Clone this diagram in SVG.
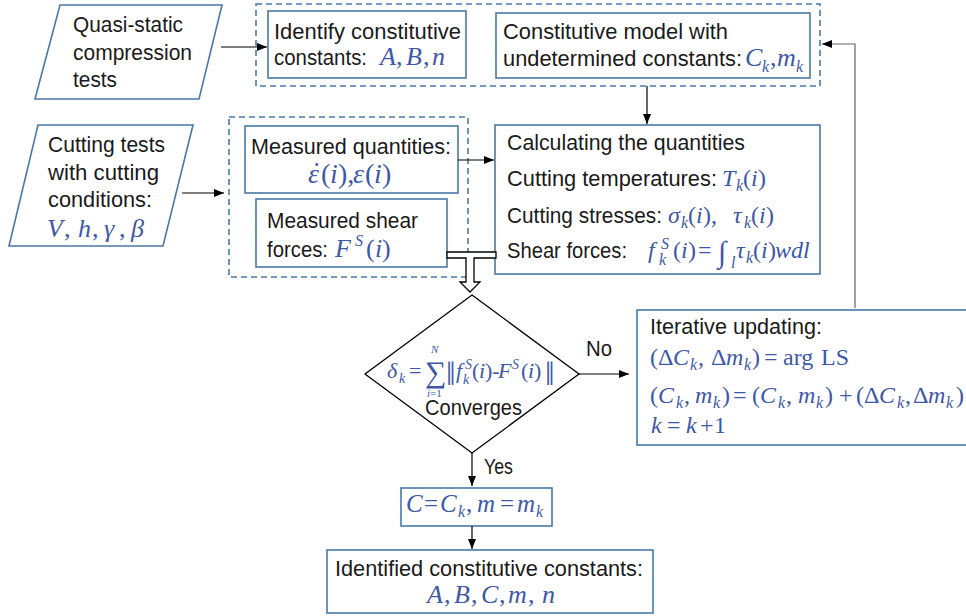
<svg xmlns="http://www.w3.org/2000/svg" width="966" height="616" viewBox="0 0 966 616">
<style>
.box{fill:#fff;stroke:#4a78a8;stroke-width:1.6}
.dash{fill:none;stroke:#4a78a8;stroke-width:1.6;stroke-dasharray:6 4}
.t{font-family:"Liberation Sans",Arial,sans-serif;font-size:21.5px;fill:#1a1a1a}
.m{font-family:"Liberation Serif","Times New Roman",serif;font-size:26px;fill:#3d58a8}
.m24{font-size:24px}
.m22{font-size:22px}
.i{font-style:italic}
.s{font-size:16px}
.c{fill:none;stroke:#000;stroke-width:1.2}
</style>
<defs>
<marker id="ah" markerWidth="10" markerHeight="8" refX="10" refY="4" orient="auto" markerUnits="userSpaceOnUse"><path d="M0,0 L10,4 L0,8 Z" fill="#000"/></marker>
</defs>

<g id="group-top"><rect class="dash" x="256" y="4" width="564" height="82"/></g>
<g id="group-mid"><rect class="dash" x="229" y="117" width="239" height="160"/></g>

<g id="quasi">
<polygon class="box" points="60,5 222,5 199,99 35,99"/>
<text class="t" x="73" y="32" textLength="110" lengthAdjust="spacingAndGlyphs">Quasi-static</text>
<text class="t" x="73" y="60" textLength="119" lengthAdjust="spacingAndGlyphs">compression</text>
<text class="t" x="73" y="87" textLength="44" lengthAdjust="spacingAndGlyphs">tests</text>
</g>

<g id="identify">
<rect class="box" x="268" y="11" width="198" height="67"/>
<text class="t" x="274" y="39" textLength="187" lengthAdjust="spacingAndGlyphs">Identify constitutive</text>
<text class="t" x="274" y="65" textLength="93" lengthAdjust="spacingAndGlyphs">constants:</text>
<text class="m" y="65"><tspan class="i" x="380">A</tspan><tspan x="396">,</tspan><tspan class="i" x="406">B</tspan><tspan x="423">,</tspan><tspan class="i" x="432">n</tspan></text>
</g>

<g id="model">
<rect class="box" x="496" y="13" width="314" height="65"/>
<text class="t" x="503" y="39" textLength="225" lengthAdjust="spacingAndGlyphs">Constitutive model with</text>
<text class="t" x="503" y="66" textLength="239" lengthAdjust="spacingAndGlyphs">undetermined constants:</text>
<text class="m"><tspan class="i" x="745" y="66">C</tspan><tspan class="i s" x="762" y="72">k</tspan><tspan x="770" y="66">,</tspan><tspan class="i" x="777" y="66">m</tspan><tspan class="i s" x="796" y="72">k</tspan></text>
</g>

<g id="cutting">
<polygon class="box" points="38,125 193,125 163,246 9,246"/>
<text class="t" x="48" y="152" textLength="117" lengthAdjust="spacingAndGlyphs">Cutting tests</text>
<text class="t" x="48" y="180" textLength="111" lengthAdjust="spacingAndGlyphs">with cutting</text>
<text class="t" x="48" y="207" textLength="104" lengthAdjust="spacingAndGlyphs">conditions:</text>
<text class="m" y="237"><tspan class="i" x="47">V</tspan><tspan x="64">,</tspan><tspan class="i" x="78">h</tspan><tspan x="92">,</tspan><tspan class="i" x="104">γ</tspan><tspan x="119">,</tspan><tspan class="i" x="131">β</tspan></text>
</g>

<g id="measured-quantities">
<rect class="box" x="245" y="126" width="213" height="67"/>
<text class="t" x="251" y="154" textLength="200" lengthAdjust="spacingAndGlyphs">Measured quantities:</text>
<text class="m" y="183" style="font-size:28px"><tspan class="i" x="308">ε</tspan><tspan x="321">(</tspan><tspan class="i" x="330">i</tspan><tspan x="338">),</tspan><tspan class="i" x="353">ε</tspan><tspan x="365">(</tspan><tspan class="i" x="374">i</tspan><tspan x="382">)</tspan></text>
<text class="m" x="312" y="181" style="font-size:28px">˙</text>
</g>

<g id="measured-shear">
<rect class="box" x="256" y="199" width="191" height="68"/>
<text class="t" x="267" y="228" textLength="151" lengthAdjust="spacingAndGlyphs">Measured shear</text>
<text class="t" x="267" y="257" textLength="61" lengthAdjust="spacingAndGlyphs">forces:</text>
<text class="m"><tspan class="i" x="335" y="257">F</tspan><tspan class="i s" x="355" y="246">S</tspan><tspan x="366" y="257">(</tspan><tspan class="i" x="375">i</tspan><tspan x="382">)</tspan></text>
</g>

<g id="calculating">
<rect class="box" x="495" y="125" width="325" height="149"/>
<text class="t" x="507" y="150" textLength="238" lengthAdjust="spacingAndGlyphs">Calculating the quantities</text>
<text class="t" x="507" y="186" textLength="210" lengthAdjust="spacingAndGlyphs">Cutting temperatures:</text>
<text class="t" x="507" y="223" textLength="155" lengthAdjust="spacingAndGlyphs">Cutting stresses:</text>
<text class="t" x="507" y="258" textLength="120" lengthAdjust="spacingAndGlyphs">Shear forces:</text>
<text class="m m24"><tspan class="i" x="722" y="186">T</tspan><tspan class="i s" x="736" y="191">k</tspan><tspan x="743" y="186">(</tspan><tspan class="i" x="751">i</tspan><tspan x="758">)</tspan></text>
<text class="m m24"><tspan class="i" x="668" y="223">σ</tspan><tspan class="i s" x="681" y="228">k</tspan><tspan x="688" y="223">(</tspan><tspan class="i" x="696">i</tspan><tspan x="703">),</tspan><tspan class="i" x="733" y="223">τ</tspan><tspan class="i s" x="744" y="228">k</tspan><tspan x="751" y="223">(</tspan><tspan class="i" x="759">i</tspan><tspan x="766">)</tspan></text>
<text class="m m24"><tspan class="i" x="648" y="258">f</tspan><tspan class="i s" x="661" y="249">S</tspan><tspan class="i s" x="659" y="265">k</tspan><tspan x="673" y="258">(</tspan><tspan class="i" x="681">i</tspan><tspan x="688">)</tspan><tspan x="698">=</tspan><tspan x="718" y="262" style="font-size:30px">∫</tspan><tspan class="i s" x="731" y="268">l</tspan><tspan class="i" x="736" y="258">τ</tspan><tspan class="i s" x="746" y="263">k</tspan><tspan x="753" y="258">(</tspan><tspan class="i" x="761">i</tspan><tspan x="768">)</tspan><tspan class="i" x="775">wdl</tspan></text>
</g>

<g id="converges">
<polygon points="472,295 579,374 472,453 365,374" fill="#fff" stroke="#000" stroke-width="1.3"/>
<text class="m m22"><tspan class="i" x="387" y="378">δ</tspan><tspan class="i" x="399" y="383" style="font-size:14px">k</tspan><tspan x="409" y="378">=</tspan><tspan x="425" y="382" style="font-size:30px">∑</tspan><tspan class="i" x="431" y="353" style="font-size:11px">N</tspan><tspan class="i" x="427" y="397" style="font-size:11px">i</tspan><tspan style="font-size:11px">=1</tspan><tspan x="446" y="385" style="font-size:34px">‖</tspan><tspan class="i" x="456" y="378">f</tspan><tspan class="i" x="465" y="369" style="font-size:14px">S</tspan><tspan class="i" x="463" y="384" style="font-size:14px">k</tspan><tspan x="472" y="378">(</tspan><tspan class="i" x="479">i</tspan><tspan x="485">)-</tspan><tspan class="i" x="498">F</tspan><tspan class="i" x="512" y="369" style="font-size:14px">S</tspan><tspan x="521" y="378">(</tspan><tspan class="i" x="528">i</tspan><tspan x="534">)</tspan><tspan x="545" y="385" style="font-size:34px">‖</tspan></text>
<text class="t" x="425" y="415" textLength="97" lengthAdjust="spacingAndGlyphs">Converges</text>
</g>

<g id="iterative">
<rect class="box" x="637" y="310" width="345" height="135"/>
<text class="t" x="650" y="334" textLength="172" lengthAdjust="spacingAndGlyphs">Iterative updating:</text>
<text class="m m24" y="365"><tspan x="650">(</tspan><tspan x="658">Δ</tspan><tspan class="i" x="673">C</tspan><tspan class="i s" x="690" y="370">k</tspan><tspan x="698" y="365">,</tspan><tspan x="711">Δ</tspan><tspan class="i" x="726">m</tspan><tspan class="i s" x="744" y="370">k</tspan><tspan x="752" y="365">)</tspan><tspan x="764">=</tspan><tspan x="783">arg</tspan><tspan x="821">LS</tspan></text>
<text class="m m24" y="403"><tspan x="650">(</tspan><tspan class="i" x="658">C</tspan><tspan class="i s" x="676" y="408">k</tspan><tspan x="684" y="403">,</tspan><tspan class="i" x="695">m</tspan><tspan class="i s" x="713" y="408">k</tspan><tspan x="722" y="403">)</tspan><tspan x="733">=</tspan><tspan x="752">(</tspan><tspan class="i" x="760">C</tspan><tspan class="i s" x="778" y="408">k</tspan><tspan x="786" y="403">,</tspan><tspan class="i" x="798">m</tspan><tspan class="i s" x="816" y="408">k</tspan><tspan x="825" y="403">)</tspan><tspan x="839">+</tspan><tspan x="856">(</tspan><tspan x="864">Δ</tspan><tspan class="i" x="879">C</tspan><tspan class="i s" x="897" y="408">k</tspan><tspan x="905" y="403">,</tspan><tspan x="913">Δ</tspan><tspan class="i" x="928">m</tspan><tspan class="i s" x="946" y="408">k</tspan><tspan x="956" y="403">)</tspan></text>
<text class="m m24" y="433"><tspan class="i" x="651">k</tspan><tspan x="667">=</tspan><tspan class="i" x="686">k</tspan><tspan x="700">+</tspan><tspan x="714">1</tspan></text>
</g>

<g id="result">
<rect class="box" x="401" y="488" width="151" height="38"/>
<text class="m" y="512" style="font-size:25px"><tspan class="i" x="406">C</tspan><tspan x="424">=</tspan><tspan class="i" x="440">C</tspan><tspan class="i s" x="458" y="517">k</tspan><tspan x="466" y="512">,</tspan><tspan class="i" x="477">m</tspan><tspan x="500">=</tspan><tspan class="i" x="517">m</tspan><tspan class="i s" x="536" y="517">k</tspan></text>
</g>

<g id="identified">
<rect class="box" x="327" y="550" width="326" height="63"/>
<text class="t" x="335" y="576" textLength="308" lengthAdjust="spacingAndGlyphs">Identified constitutive constants:</text>
<text class="m" y="603"><tspan class="i" x="427">A</tspan><tspan x="444">,</tspan><tspan class="i" x="454">B</tspan><tspan x="471">,</tspan><tspan class="i" x="481">C</tspan><tspan x="499">,</tspan><tspan class="i" x="508">m</tspan><tspan x="528">,</tspan><tspan class="i" x="542">n</tspan></text>
</g>

<g id="connectors">
<path class="c" d="M221,47 H267" marker-end="url(#ah)"/>
<path class="c" d="M182,193 H224" marker-end="url(#ah)"/>
<path class="c" d="M458,160 H494" marker-end="url(#ah)"/>
<path class="c" d="M647,86 V124" marker-end="url(#ah)"/>
<path class="c" d="M855,308 V44 H822" style="stroke:#666" marker-end="url(#ah)"/>
<path class="c" d="M579,374 H629" marker-end="url(#ah)"/>
<path class="c" d="M472,453 V486" marker-end="url(#ah)"/>
<path class="c" d="M472,526 V549" marker-end="url(#ah)"/>
<path d="M447,252 H496 V258 H474 V282 H480 L470,292 L460,282 H466 V258 H447 Z" fill="#fff" stroke="#000" stroke-width="1.3"/>
<text class="t" x="586" y="356" textLength="26" lengthAdjust="spacingAndGlyphs">No</text>
<text class="t" x="484" y="474" textLength="29" lengthAdjust="spacingAndGlyphs">Yes</text>
</g>
</svg>
